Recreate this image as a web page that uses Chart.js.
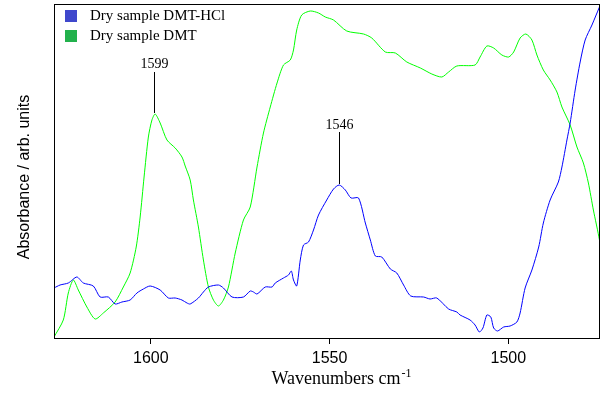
<!DOCTYPE html>
<html>
<head>
<meta charset="utf-8">
<script src="https://cdn.jsdelivr.net/npm/chart.js@4/dist/chart.umd.min.js"></script>
<style>
html,body{margin:0;padding:0;background:#fff;}
#wrap{width:608px;height:408px;}
</style>
</head>
<body>
<div id="wrap"><canvas id="c" width="608" height="408"></canvas></div>
<script>
// Series names
const seriesNames = ['Dry sample DMT-HCl', 'Dry sample DMT'];

// Dry sample DMT-HCl (blue): wavenumber / absorbance (arb.)
const hclWavenumber = [1627.1,1625.4,1623.1,1620.7,1618.9,1616.1,1614.2,1611.9,1610.0,1608.1,1605.8,1603.9,1602.1,1600.2,1597.4,1595.1,1593.2,1591.3,1589.9,1589.0,1586.7,1585.3,1583.9,1581.1,1579.7,1577.3,1574.1,1572.2,1571.3,1570.3,1568.0,1566.1,1565.2,1562.9,1561.5,1560.7,1560.1,1559.2,1558.2,1557.3,1555.9,1554.5,1553.1,1550.8,1548.9,1547.3,1545.6,1544.0,1541.9,1540.0,1538.6,1537.2,1535.4,1533.0,1531.2,1529.3,1527.3,1523.7,1521.9,1520.0,1516.7,1514.4,1513.5,1510.7,1509.3,1508.1,1507.1,1506.0,1504.9,1504.1,1503.0,1501.3,1499.5,1497.6,1496.7,1495.3,1493.4,1491.5,1490.2,1488.3,1486.0,1485.0,1483.6,1482.7,1481.3,1479.9,1478.5,1476.6,1474.5];
const hclAbsorbance = [50,53,55,61,55,52,41,41,34,36,38,45,49,52,48,40,40,38,35,34,40,46,51,53,50,41,41,47,46,44,51,51,55,60,63,67,58,52,78,93,96,108,123,138,149,153,148,140,140,115,98,82,81,69,65,53,42,41,39,40,29,26,23,18,13,6,10,23,21,10,7,11,12,16,25,50,68,91,115,138,156,171,198,215,248,276,298,313,331];

// Dry sample DMT (green)
const dmtWavenumber = [1627.1,1624.5,1623.1,1621.7,1620.3,1617.9,1615.6,1613.3,1610.0,1607.7,1605.8,1604.1,1603.0,1601.9,1600.7,1599.7,1598.8,1597.4,1595.5,1593.2,1591.3,1590.4,1589.0,1588.1,1586.7,1585.3,1583.9,1582.5,1581.1,1579.7,1578.3,1576.4,1574.1,1572.2,1570.3,1568.5,1566.6,1564.7,1562.9,1561.0,1560.1,1559.2,1557.8,1555.4,1553.1,1551.2,1548.9,1545.2,1540.5,1538.2,1534.4,1531.6,1528.4,1524.6,1521.4,1518.6,1516.7,1514.4,1509.3,1507.9,1506.0,1504.1,1501.8,1499.9,1498.5,1496.7,1495.1,1493.4,1492.0,1490.2,1488.3,1486.4,1485.0,1482.7,1480.8,1479.0,1477.6,1476.2,1474.5,1474.4];
const dmtAbsorbance = [1,18,45,58,48,31,19,25,36,51,65,91,121,161,201,218,224,215,198,190,181,172,158,138,111,78,51,38,32,38,51,85,118,131,171,205,231,255,273,278,288,308,323,327,325,321,318,307,304,300,286,285,276,270,264,261,266,272,273,281,292,290,283,281,286,300,304,298,283,268,258,246,231,213,191,175,155,128,98,91];

// Axis
const xTicks = [1600, 1550, 1500];
const xRange = [1474.35, 1627.1];
const yRange = [0, 334];

// Peak annotations
const peakLabels = ['1599', '1546'];
const peakX = [1599.0, 1547.5];
const peakLineBottom = [225, 154];
const peakLineTop = [266, 206];
const peakTextY = [274, 213];

const lineColors = ['#0000FF', '#00FF00'];
const legendColors = ['#3F48CC', '#22B14C'];

function toPoints(xs, ys){ return xs.map((x,i)=>({x:x, y:ys[i]})); }

const framePlugin = {
  id:'frame',
  afterDraw(chart){
    const ctx = chart.ctx, a = chart.chartArea;
    const xs = chart.scales.x, ys = chart.scales.y;
    ctx.save();
    // frame
    ctx.strokeStyle = '#000'; ctx.lineWidth = 1;
    ctx.strokeRect(Math.round(a.left)+0.5, Math.round(a.top)+0.5, Math.round(a.right-a.left)-1, Math.round(a.bottom-a.top));
    // peak annotations
    ctx.font = '14px "Liberation Serif", "Times New Roman", serif';
    ctx.fillStyle = '#000'; ctx.textAlign = 'center'; ctx.textBaseline = 'middle';
    peakLabels.forEach((lab,i)=>{
      const px = Math.round(xs.getPixelForValue(peakX[i]))+0.5;
      ctx.beginPath();
      ctx.moveTo(px, ys.getPixelForValue(peakLineBottom[i]));
      ctx.lineTo(px, ys.getPixelForValue(peakLineTop[i]));
      ctx.stroke();
      ctx.fillText(lab, px, ys.getPixelForValue(peakTextY[i]));
    });
    // legend
    ctx.font = '15px "Liberation Serif", "Times New Roman", serif';
    ctx.textAlign = 'left';
    chart.data.datasets.forEach((ds,i)=>{
      const top = a.top + 6 + i*20;
      ctx.fillStyle = legendColors[i];
      ctx.fillRect(a.left + 11, top, 12, 12);
      ctx.fillStyle = '#000';
      ctx.fillText(ds.label, a.left + 36, top + 6.5);
    });
    // x title with superscript
    const cx = (a.left + a.right)/2 + 14;
    const base = a.bottom + 46;
    ctx.font = '18px "Liberation Serif", "Times New Roman", serif';
    ctx.textBaseline = 'alphabetic';
    const main = 'Wavenumbers cm';
    ctx.font = '12px "Liberation Serif", "Times New Roman", serif';
    const supW = ctx.measureText('-1').width;
    ctx.font = '18px "Liberation Serif", "Times New Roman", serif';
    const mainW = ctx.measureText(main).width;
    const startX = cx - (mainW + supW)/2;
    ctx.fillText(main, startX, base);
    ctx.font = '12px "Liberation Serif", "Times New Roman", serif';
    ctx.fillText('-1', startX + mainW + 1, base - 7);
    // y title
    ctx.save();
    ctx.translate(25, (a.top + a.bottom)/2 + 6);
    ctx.rotate(-Math.PI/2);
    ctx.font = '16px "Liberation Sans", Arial, sans-serif';
    ctx.textAlign = 'center'; ctx.textBaseline = 'middle';
    ctx.fillText('Absorbance / arb. units', 0, 0);
    ctx.restore();
    ctx.restore();
  }
};

new Chart(document.getElementById('c'), {
  type:'line',
  data:{
    datasets:[
      {label:seriesNames[0], data:toPoints(hclWavenumber, hclAbsorbance), borderColor:lineColors[0], backgroundColor:legendColors[0], borderWidth:1, pointRadius:0, tension:0.25, fill:false},
      {label:seriesNames[1], data:toPoints(dmtWavenumber, dmtAbsorbance), borderColor:lineColors[1], backgroundColor:legendColors[1], borderWidth:1, pointRadius:0, tension:0.25, fill:false}
    ]
  },
  options:{
    responsive:false,
    animation:false,
    devicePixelRatio:1,
    layout:{padding:{left:54, right:8, top:4, bottom:0}},
    plugins:{legend:{display:false}, tooltip:{enabled:false}},
    scales:{
      x:{
        type:'linear', reverse:true, min:xRange[0], max:xRange[1],
        afterBuildTicks(scale){ scale.ticks = xTicks.map(v=>({value:v})); },
        afterFit(scale){ scale.height = 70; },
        grid:{display:true, drawOnChartArea:false, drawTicks:true, tickLength:6, color:'#000', lineWidth:1},
        border:{display:false},
        ticks:{color:'#000', padding:5, maxRotation:0, font:{family:'"Liberation Sans", Arial, sans-serif', size:16}, callback:(v)=>String(v)}
      },
      y:{
        display:false, min:yRange[0], max:yRange[1]
      }
    }
  },
  plugins:[framePlugin]
});
</script>
</body>
</html>
